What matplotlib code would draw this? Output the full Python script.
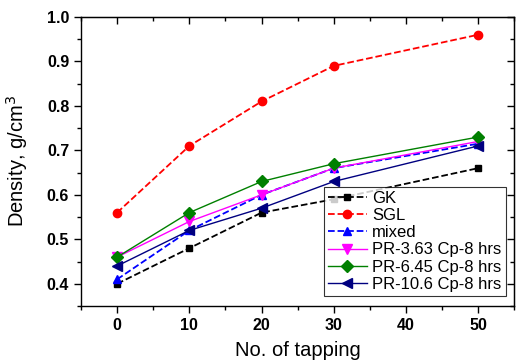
from matplotlib import pyplot as plt
import matplotlib

matplotlib.rcParams['font.family'] = ['Liberation Sans', 'DejaVu Sans']

tapping = [0, 10, 20, 30, 50]
gk = [0.40, 0.48, 0.56, 0.59, 0.66]
sgl = [0.56, 0.71, 0.81, 0.89, 0.96]
mixed = [0.41, 0.52, 0.60, 0.66, 0.715]
pr363 = [0.46, 0.54, 0.60, 0.66, 0.72]
pr645 = [0.46, 0.56, 0.63, 0.67, 0.73]
pr106 = [0.44, 0.52, 0.57, 0.63, 0.71]

fig = plt.figure(figsize=(5.16, 3.6), dpi=100)
ax = fig.add_axes([0.157, 0.15, 0.84, 0.803])

ax.plot(tapping, gk, '--s', color='black', ms=5, lw=1.3, label='GK')
ax.plot(tapping, sgl, '--o', color='red', ms=6, lw=1.3, label='SGL')
ax.plot(tapping, mixed, '--^', color='blue', ms=6, lw=1.3, label='mixed')
ax.plot(tapping, pr363, '-v', color='magenta', ms=7, lw=1.0, label='PR-3.63 Cp-8 hrs')
ax.plot(tapping, pr645, '-D', color='green', ms=6, lw=1.0, label='PR-6.45 Cp-8 hrs')
ax.plot(tapping, pr106, '-<', color='navy', ms=7, lw=1.0, label='PR-10.6 Cp-8 hrs')

ax.set_xlim(-5, 55)
ax.set_ylim(0.35, 1.0)
ax.set_xticks([0, 10, 20, 30, 40, 50])
ax.set_xticks([-5, 5, 15, 25, 35, 45, 55], minor=True)
ax.set_yticks([0.4, 0.5, 0.6, 0.7, 0.8, 0.9, 1.0])
ax.set_yticks([0.35, 0.45, 0.55, 0.65, 0.75, 0.85, 0.95], minor=True)
ax.yaxis.set_major_formatter(matplotlib.ticker.FormatStrFormatter('%.1f'))

ax.tick_params(which='both', direction='out', top=False, right=False, width=1.0)
ax.tick_params(which='major', length=5)
ax.tick_params(which='minor', length=3)
for lab in ax.get_xticklabels() + ax.get_yticklabels():
    lab.set_fontweight('bold')
    lab.set_fontsize(11.5)

# ticks on top and right pointing inward
axt = ax.secondary_xaxis('top')
axt.set_xticks([0, 10, 20, 30, 40, 50])
axt.set_xticks([-5, 5, 15, 25, 35, 45, 55], minor=True)
axt.tick_params(which='both', direction='in', labeltop=False, width=1.0)
axt.tick_params(which='major', length=5)
axt.tick_params(which='minor', length=3)
axr = ax.secondary_yaxis('right')
axr.set_yticks([0.4, 0.5, 0.6, 0.7, 0.8, 0.9, 1.0])
axr.set_yticks([0.35, 0.45, 0.55, 0.65, 0.75, 0.85, 0.95], minor=True)
axr.tick_params(which='both', direction='in', labelright=False, width=1.0)
axr.tick_params(which='major', length=5)
axr.tick_params(which='minor', length=3)

for sp in ax.spines.values():
    sp.set_linewidth(1.0)

ax.set_xlabel('No. of tapping', fontsize=14.5, labelpad=6)
ax.set_ylabel('Density, g/cm$^3$', fontsize=14.5, labelpad=12)

leg = ax.legend(loc='lower right', fontsize=12, frameon=True, fancybox=False,
                edgecolor='black', handlelength=2.3, borderpad=0.25,
                labelspacing=0.13, handletextpad=0.35, borderaxespad=0,
                bbox_to_anchor=(0.98, 0.035))
leg.get_frame().set_linewidth(0.8)

plt.savefig('out.png', dpi=100)
